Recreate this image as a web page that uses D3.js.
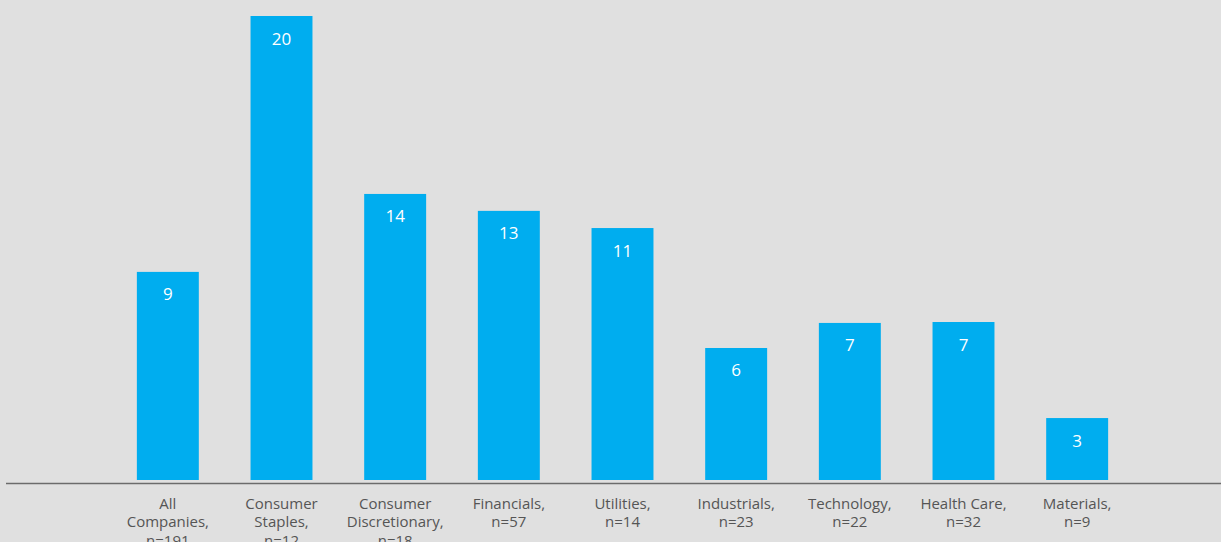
<!DOCTYPE html>
<html><head><meta charset="utf-8">
<script src="https://cdn.jsdelivr.net/npm/d3@7"></script>
<style>html,body{margin:0;padding:0;background:#e0e0e0;}svg{display:block;}</style>
</head><body>
<script>
const categories = [
  ["All", "Companies,", "n=191"],
  ["Consumer", "Staples,", "n=12"],
  ["Consumer", "Discretionary,", "n=18"],
  ["Financials,", "n=57"],
  ["Utilities,", "n=14"],
  ["Industrials,", "n=23"],
  ["Technology,", "n=22"],
  ["Health Care,", "n=32"],
  ["Materials,", "n=9"]
];
// bar heights as drawn in the picture
const values = [8.97, 20, 12.33, 11.6, 10.86, 5.69, 6.77, 6.81, 2.67];
// value labels printed on bars
const labels = ["9", "20", "14", "13", "11", "6", "7", "7", "3"];

const W = 1221, H = 542;
const svg = d3.select("body").append("svg").attr("width", W).attr("height", H);
svg.append("rect").attr("width", W).attr("height", H).attr("fill", "#e0e0e0");

const x = d3.scaleBand().domain(d3.range(categories.length)).range([111, 1134]).paddingInner(0.455).paddingOuter(0.2275);
const y = d3.scaleLinear().domain([0, 20]).range([480, 16]);

svg.selectAll("rect.bar").data(values).enter().append("rect")
  .attr("class", "bar")
  .attr("x", (d, i) => x(i)).attr("width", x.bandwidth())
  .attr("y", d => y(d)).attr("height", d => y(0) - y(d))
  .attr("fill", "#00adef");

svg.selectAll("text.val").data(values).enter().append("text")
  .attr("class", "val")
  .attr("x", (d, i) => x(i) + x.bandwidth() / 2)
  .attr("y", d => y(d) + 28.5)
  .attr("text-anchor", "middle")
  .attr("fill", "#ffffff")
  .attr("font-family", "Open Sans, sans-serif")
  .attr("font-size", 17)
  .text((d, i) => labels[i]);

const axis = d3.axisBottom(x).tickSize(0).tickFormat("");
const ag = svg.append("g").attr("transform", "translate(0,483.5)").call(axis);
ag.select(".domain").remove();
ag.append("line").attr("x1", 6).attr("x2", W).attr("y1", 0).attr("y2", 0)
  .attr("stroke", "#6b6b6b").attr("stroke-width", 1.5);

ag.selectAll(".tick").each(function(d) {
  const t = d3.select(this).append("text")
    .attr("text-anchor", "middle")
    .attr("fill", "#555555")
    .attr("font-family", "Open Sans, sans-serif")
    .attr("font-size", 15);
  categories[d].forEach((line, k) => {
    t.append("tspan").attr("x", 0).attr("y", 25.5 + k * 18.3).text(line);
  });
});
</script>
</body></html>
